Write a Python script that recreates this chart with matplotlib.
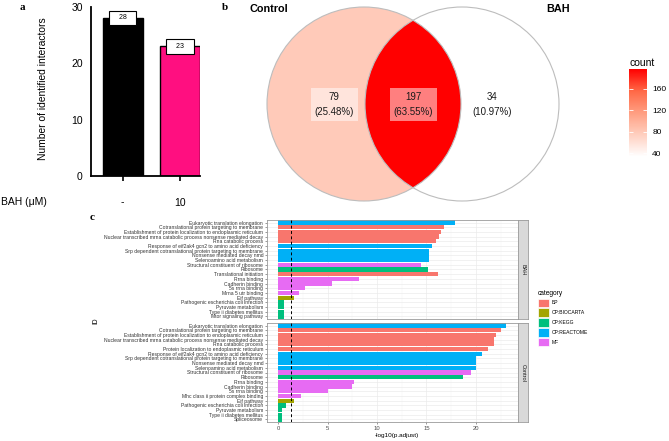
import numpy as np
import matplotlib
matplotlib.use("Agg")
import matplotlib.pyplot as plt
from matplotlib.colors import LinearSegmentedColormap, Normalize
from matplotlib.cm import ScalarMappable
from matplotlib.patches import Circle, Patch

plt.rcParams['font.family'] = ['Liberation Sans', 'DejaVu Sans']

# ---- data ----
# panel a
groups = ['-', '10']
interactors = [28, 23]
bar_colors = ['#000000', '#FF0F80']

# panel b (venn)
venn_names = ['Control', 'BAH']
only_control = 79
shared = 197
only_bah = 34

# panel c
categories = ['BP', 'CP:BIOCARTA', 'CP:KEGG', 'CP:REACTOME', 'MF']
cat_colors = ['#F8766D', '#A3A500', '#00BF7D', '#00B0F6', '#E76BF3']

terms_bah = ['Eukaryotic translation elongation',
             'Cotranslational protein targeting to membrane',
             'Establishment of protein localization to endoplasmic reticulum',
             'Nuclear transcribed mrna catabolic process nonsense mediated decay',
             'Rna catabolic process',
             'Response of eif2ak4 gcn2 to amino acid deficiency',
             'Srp dependent cotranslational protein targeting to membrane',
             'Nonsense mediated decay nmd',
             'Selenoamino acid metabolism',
             'Structural constituent of ribosome',
             'Ribosome',
             'Translational initiation',
             'Rrna binding',
             'Cadherin binding',
             '5s rrna binding',
             'Mrna 5 utr binding',
             'Eif pathway',
             'Pathogenic escherichia coli infection',
             'Pyruvate metabolism',
             'Type ii diabetes mellitus',
             'Mtor signaling pathway']
cat_bah = ['CP:REACTOME', 'BP', 'BP', 'BP', 'BP', 'CP:REACTOME', 'CP:REACTOME',
           'CP:REACTOME', 'CP:REACTOME', 'MF', 'CP:KEGG', 'BP', 'MF', 'MF', 'MF',
           'MF', 'CP:BIOCARTA', 'CP:KEGG', 'CP:KEGG', 'CP:KEGG', 'CP:KEGG']
vals_bah = [17.9, 16.8, 16.5, 16.3, 16.0, 15.6, 15.3, 15.3, 15.3, 14.5, 15.2,
            16.15, 8.2, 5.4, 2.75, 2.15, 1.65, 0.55, 0.55, 0.55, 0.55]

terms_ctrl = ['Eukaryotic translation elongation',
              'Cotranslational protein targeting to membrane',
              'Establishment of protein localization to endoplasmic reticulum',
              'Nuclear transcribed mrna catabolic process nonsense mediated decay',
              'Rna catabolic process',
              'Protein localization to endoplasmic reticulum',
              'Response of eif2ak4 gcn2 to amino acid deficiency',
              'Srp dependent cotranslational protein targeting to membrane',
              'Nonsense mediated decay nmd',
              'Selenoamino acid metabolism',
              'Structural constituent of ribosome',
              'Ribosome',
              'Rrna binding',
              'Cadherin binding',
              '5s rrna binding',
              'Mhc class ii protein complex binding',
              'Eif pathway',
              'Pathogenic escherichia coli infection',
              'Pyruvate metabolism',
              'Type ii diabetes mellitus',
              'Spliceosome']
cat_ctrl = ['CP:REACTOME', 'BP', 'BP', 'BP', 'BP', 'BP', 'CP:REACTOME',
            'CP:REACTOME', 'CP:REACTOME', 'CP:REACTOME', 'MF', 'CP:KEGG', 'MF',
            'MF', 'MF', 'MF', 'CP:BIOCARTA', 'CP:KEGG', 'CP:KEGG', 'CP:KEGG',
            'CP:KEGG']
vals_ctrl = [23.1, 22.5, 22.0, 21.8, 21.8, 21.2, 20.6, 20.0, 20.0, 20.0, 19.5,
             18.7, 7.7, 7.5, 5.0, 2.35, 1.65, 0.75, 0.35, 0.35, 0.35]

cutoff = -np.log10(0.05)

# ---- layout helpers (pixel based) ----
W, H = 669, 441
fig = plt.figure(figsize=(W / 100, H / 100), dpi=100)


def rect(x0, y0, x1, y1):
    return [x0 / W, 1 - y1 / H, (x1 - x0) / W, (y1 - y0) / H]


def fpos(x, y):
    return x / W, 1 - y / H


# panel letters
for letter, (lx, ly) in zip('abc', [(22, 7.5), (225, 7.5), (92, 217)]):
    fig.text(*fpos(lx, ly), letter, family='Liberation Serif', weight='bold',
             fontsize=8, ha='center', va='center')

# ---- panel a ----
ax_a = fig.add_axes(rect(91, 6.7, 200, 176))
x = np.arange(len(groups))
ax_a.bar(x, interactors, width=0.70, color=bar_colors, edgecolor='black', lw=1)
for xi, v in zip(x, interactors):
    ax_a.text(xi, v, f"   {v}   ", ha='center', va='center', fontsize=5,
              bbox=dict(boxstyle='square,pad=0.55', fc='white', ec='black', lw=0.8))
ax_a.set_xlim(-0.553, 1.35)
ax_a.set_ylim(0, 30)
ax_a.set_yticks([0, 10, 20, 30])
ax_a.set_xticks(x, groups)
for s in ['top', 'right']:
    ax_a.spines[s].set_visible(False)
for s in ['left', 'bottom']:
    ax_a.spines[s].set_linewidth(1.3)
ax_a.tick_params(axis='y', labelsize=7.5, length=0, pad=6)
ax_a.tick_params(axis='x', labelsize=7.5, length=3.5, width=1.2, pad=12)
fig.text(*fpos(43, 89), 'Number of identified interactors', rotation=90,
         ha='center', va='center', fontsize=7.4)
fig.text(*fpos(1, 201.7), 'BAH (\u03bcM)', ha='left', va='center', fontsize=7.5)

# ---- panel b ----
stops = [(0, '#FFFFFF'), (0.25, '#FFCFBF'), (0.5, '#FF9E81'),
         (0.75, '#FF6846'), (1, '#FF0000')]
cmap = LinearSegmentedColormap.from_list('white_red', stops)
counts = [only_control, shared, only_bah]
total = sum(counts)
norm = Normalize(min(counts), max(counts))

ax_v = fig.add_axes(rect(240, 0, 600, 210))
ax_v.set_xlim(240, 600)
ax_v.set_ylim(210, 0)
ax_v.axis('off')
c_left, c_right, r = (364, 104), (462, 104), 97
left = Circle(c_left, r, fc=cmap(norm(only_control)), ec='none')
right = Circle(c_right, r, fc=cmap(norm(only_bah)), ec='none')
ax_v.add_patch(left)
ax_v.add_patch(right)
lens = Circle(c_right, r, fc=cmap(norm(shared)), ec='none')
ax_v.add_patch(lens)
lens.set_clip_path(left)
for c in [c_left, c_right]:
    ax_v.add_patch(Circle(c, r, fill=False, ec='#BDBDBD', lw=0.8))

for cx, n, boxed in [(334.4, only_control, True), (413.5, shared, True),
                     (492.5, only_bah, False)]:
    bbox = dict(boxstyle='square,pad=0.4', fc='white', alpha=0.5, ec='none') if boxed else None
    ax_v.text(cx, 104.5, f"{n}\n({100 * n / total:.2f}%)", ha='center',
              va='center', fontsize=7, linespacing=1.55, color='#1A1A1A', bbox=bbox)

fig.text(*fpos(250, 8.5), venn_names[0], weight='bold', fontsize=7.8,
         ha='left', va='center')
fig.text(*fpos(546, 8.5), venn_names[1], weight='bold', fontsize=7.8,
         ha='left', va='center')

cax = fig.add_axes(rect(629, 69, 646.7, 156.7))
cb = fig.colorbar(ScalarMappable(norm=norm, cmap=cmap), cax=cax)
cb.set_ticks([40, 80, 120, 160])
cb.outline.set_visible(False)
cax.tick_params(length=3, width=0.6, color='white', direction='in',
                labelsize=6, pad=4, left=True)
fig.text(*fpos(629.3, 62.5), 'count', fontsize=7.5, ha='left', va='center')

# ---- panel c ----
color_of = dict(zip(categories, cat_colors))
facets = [('BAH', terms_bah, cat_bah, vals_bah, 219.7, 319.3),
          ('Control', terms_ctrl, cat_ctrl, vals_ctrl, 322.7, 422.3)]
for k, (name, terms, cats, vals, y0, y1) in enumerate(facets):
    ax = fig.add_axes(rect(266.7, y0, 518.3, y1))
    yy = np.arange(len(terms))
    ax.barh(yy, vals, height=0.9, color=[color_of[c] for c in cats], zorder=2)
    ax.axvline(cutoff, color='black', lw=0.7, ls=(0, (3, 2.5)), zorder=3)
    ax.set_xlim(-1.16, 24.3)
    ax.set_ylim(len(terms) - 0.4, -0.6)
    ax.set_yticks(yy, terms)
    ax.set_xticks([0, 5, 10, 15, 20])
    ax.set_xticks([2.5, 7.5, 12.5, 17.5, 22.5], minor=True)
    ax.grid(True, which='major', color='#EBEBEB', lw=0.5, zorder=0)
    ax.grid(True, which='minor', axis='x', color='#F2F2F2', lw=0.3, zorder=0)
    ax.set_axisbelow(True)
    for s in ax.spines.values():
        s.set_color('#9A9A9A')
        s.set_linewidth(0.6)
    ax.tick_params(axis='y', labelsize=3.6, length=1.5, width=0.4,
                   color='#4D4D4D', labelcolor='#333333', pad=1)
    ax.tick_params(which='minor', length=0)
    if k == 0:
        ax.tick_params(axis='x', length=0, labelbottom=False)
    else:
        ax.tick_params(axis='x', labelsize=4.2, length=1.5, width=0.4,
                       color='#4D4D4D', labelcolor='#4D4D4D', pad=1.5)
    sax = fig.add_axes(rect(518.3, y0, 528.3, y1))
    sax.set_facecolor('#D9D9D9')
    sax.set_xticks([])
    sax.set_yticks([])
    for s in sax.spines.values():
        s.set_color('#9A9A9A')
        s.set_linewidth(0.6)
    sax.text(0.5, 0.5, name, rotation=-90, ha='center', va='center',
             fontsize=4, color='#1A1A1A', transform=sax.transAxes)

fig.text(*fpos(96, 321), 'ID', rotation=90, ha='center', va='center', fontsize=4.8)
fig.text(*fpos(396.7, 435), '-log10(p.adjust)', ha='center', va='center', fontsize=4.6)

handles = [Patch(fc=c, ec='white', lw=0.5) for c in cat_colors]
leg = fig.legend(handles, categories, loc='upper left',
                 bbox_to_anchor=fpos(537.7, 290), title='category',
                 fontsize=3.6, title_fontsize=4.8, frameon=False,
                 handlelength=2.2, handleheight=2.2, handletextpad=0.6,
                 labelspacing=0.3, borderpad=0, borderaxespad=0,
                 alignment='left')

fig.savefig('out.png', dpi=100)
